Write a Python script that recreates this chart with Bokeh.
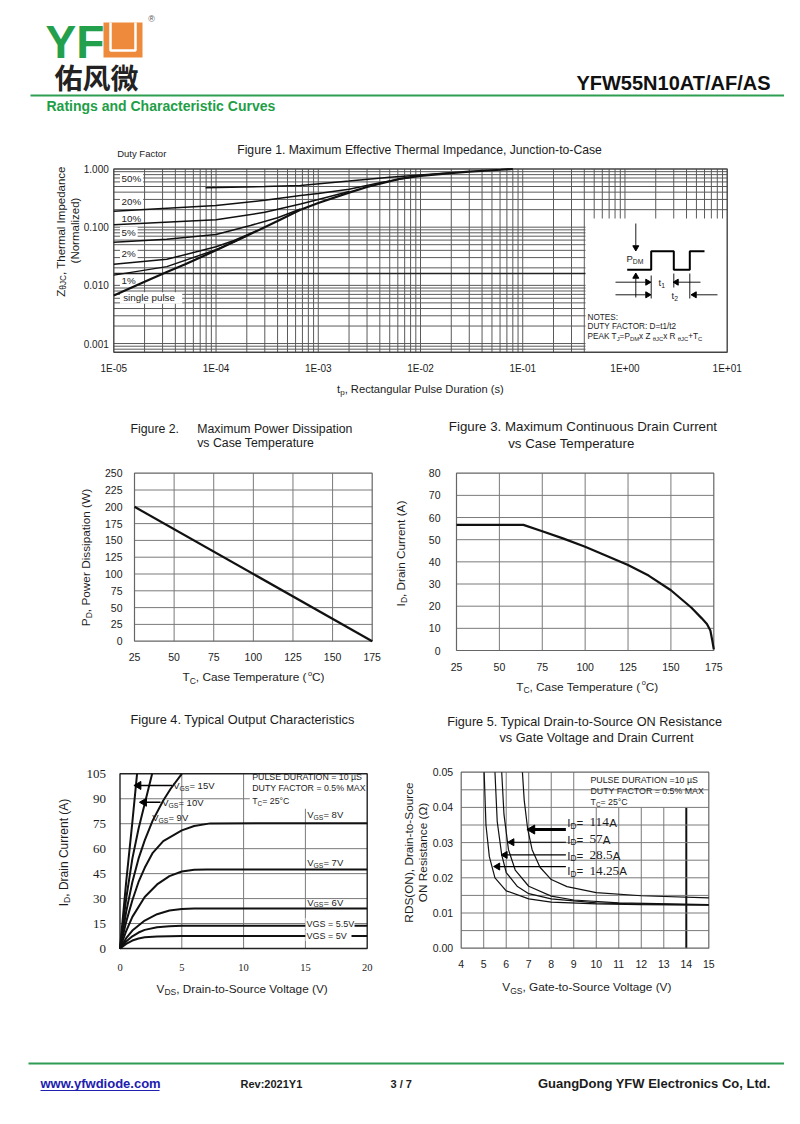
import math
from bokeh.plotting import figure
from bokeh.plotting.glyph_api import GlyphAPI
from bokeh.models import Range1d, LogScale, LinearScale, ColumnDataSource, CoordinateMapping
from bokeh.core.properties import value, field
from bokeh.embed import file_html
from bokeh.resources import INLINE

# ------------------------------------------------------------------ data
# Figure 1 : thermal impedance (t in s, Z normalized)
f1_x_ticks = [1e-5, 1e-4, 1e-3, 1e-2, 1e-1, 1e0, 1e1]
f1_x_labels = ["1E-05", "1E-04", "1E-03", "1E-02", "1E-01", "1E+00", "1E+01"]
f1_y_ticks = [1.0, 0.1, 0.01, 0.001]
f1_y_labels = ["1.000", "0.100", "0.010", "0.001"]
f1_t_single = [1e-5, 2e-5, 3.3e-5, 5e-5, 1e-4, 2e-4, 4e-4, 6.7e-4, 1e-3, 2.07e-3, 3e-3, 6.3e-3, 1e-2, 1.97e-2, 3e-2, 6.1e-2, 8e-2]
f1_z_single = [0.0067, 0.0115, 0.017, 0.023, 0.04, 0.071, 0.128, 0.2, 0.26, 0.4, 0.49, 0.68, 0.76, 0.85, 0.9, 0.97, 1.0]
f1_t_d1 = [1e-5, 3.3e-5, 1e-4, 1.5e-4, 2e-4]
f1_z_d1 = [0.015, 0.021, 0.041, 0.056, 0.071]
f1_t_d2 = [1e-5, 3.3e-5, 1e-4, 1.5e-4, 2.5e-4]
f1_z_d2 = [0.023, 0.028, 0.046, 0.059, 0.087]
f1_t_d5 = [1e-5, 3.3e-5, 1e-4, 2.17e-4, 4e-4, 6.7e-4]
f1_z_d5 = [0.055, 0.062, 0.075, 0.107, 0.145, 0.205]
f1_t_d10 = [1e-5, 1e-4, 3e-4, 6.7e-4, 1e-3, 2e-3]
f1_z_d10 = [0.11, 0.134, 0.18, 0.25, 0.3, 0.41]
f1_t_d20 = [1e-5, 1e-4, 3e-4, 6.7e-4, 1e-3, 2e-3, 4e-3, 8e-3]
f1_z_d20 = [0.188, 0.236, 0.29, 0.35, 0.38, 0.45, 0.58, 0.72]
f1_t_d50 = [7.9e-5, 3e-4, 6.7e-4, 2e-3, 5e-3, 1e-2, 2e-2]
f1_z_d50 = [0.475, 0.5, 0.52, 0.62, 0.72, 0.79, 0.86]
f1_duty_labels = ["50%", "20%", "10%", "5%", "2%", "1%", "single pulse"]

# Figure 2 : power dissipation vs case temperature
f2_ticks_x = [25, 50, 75, 100, 125, 150, 175]
f2_ticks_y = [0, 25, 50, 75, 100, 125, 150, 175, 200, 225, 250]
f2_tc = [25, 175]
f2_pd = [200, 0]

# Figure 3 : continuous drain current vs case temperature
f3_ticks_x = [25, 50, 75, 100, 125, 150, 175]
f3_ticks_y = [0, 10, 20, 30, 40, 50, 60, 70, 80]
f3_tc = [25, 64, 75, 87, 100, 112, 125, 137, 150, 162, 168, 171, 173, 174, 175]
f3_id = [56.7, 56.7, 53.8, 50.6, 46.8, 42.9, 38.6, 33.8, 27.2, 19.3, 14.5, 12.0, 9.0, 5.0, 0.5]

# Figure 4 : output characteristics (VDS in V, ID in A)
f4_ticks_x = [0, 5, 10, 15, 20]
f4_ticks_y = [0, 15, 30, 45, 60, 75, 90, 105]
f4_v_5 = [0, 0.5, 1, 1.5, 2, 3, 4, 5, 20]
f4_i_5 = [0, 2.8, 4.8, 6.0, 6.7, 7.2, 7.4, 7.5, 7.5]
f4_v_55 = [0, 0.5, 1, 1.5, 2, 3, 4, 5, 20]
f4_i_55 = [0, 4.2, 7.3, 9.6, 11.2, 12.8, 13.4, 13.6, 13.6]
f4_v_6 = [0, 0.5, 1, 2, 3, 4, 5, 6, 20]
f4_i_6 = [0, 6.2, 10.8, 16.8, 20.6, 22.8, 23.8, 24.0, 24.0]
f4_v_7 = [0, 0.5, 1, 2, 3, 4, 5, 6, 7, 20]
f4_i_7 = [0, 10.5, 19, 31, 38.5, 43.5, 46.3, 47.3, 47.5, 47.5]
f4_v_8 = [0, 0.5, 1, 1.5, 2, 2.65, 3.5, 5, 6, 7.3, 20]
f4_i_8 = [0, 16, 29, 40, 48.5, 57.5, 64.5, 71, 73.6, 75.2, 75.3]
f4_v_9 = [0, 0.5, 1, 1.5, 2, 2.65, 3.5, 4.1, 5.0]
f4_i_9 = [0, 22, 40, 54, 65, 77, 89, 96, 105]
f4_v_10 = [0, 0.5, 1, 1.5, 2, 2.6]
f4_i_10 = [0, 30, 54, 72, 87, 105]
f4_v_15 = [0, 0.5, 1, 1.38]
f4_i_15 = [0, 40, 76, 105]

# Figure 5 : RDS(on) vs VGS
f5_ticks_x = [4, 5, 6, 7, 8, 9, 10, 11, 12, 13, 14, 15]
f5_ticks_y = [0.0, 0.01, 0.02, 0.03, 0.04, 0.05]
f5_y_labels = ["0.00", "0.01", "0.02", "0.03", "0.04", "0.05"]
f5_v_14 = [5.02, 5.1, 5.25, 5.5, 6, 7, 8, 10, 12, 15]
f5_r_14 = [0.05, 0.035, 0.026, 0.02, 0.0163, 0.014, 0.0131, 0.0126, 0.0124, 0.0122]
f5_v_28 = [5.5, 5.6, 5.8, 6, 6.5, 7, 8, 10, 12, 15]
f5_r_28 = [0.05, 0.036, 0.0265, 0.0215, 0.0175, 0.0155, 0.014, 0.0129, 0.0125, 0.0123]
f5_v_57 = [5.8, 5.9, 6.1, 6.4, 7, 8, 9, 11, 15]
f5_r_57 = [0.05, 0.038, 0.028, 0.0222, 0.0176, 0.0148, 0.0137, 0.0129, 0.0124]
f5_v_114 = [6.72, 6.8, 6.95, 7.15, 7.5, 8, 8.7, 10, 12, 15]
f5_r_114 = [0.05, 0.042, 0.034, 0.028, 0.023, 0.0195, 0.0175, 0.0158, 0.0149, 0.0143]

# ------------------------------------------------------------------ styles
SANS = "Liberation Sans"
SERIF = "Liberation Serif"
CJK = "Noto Sans CJK SC"
TXT = "#1c1c1c"
GRID = "#7a7a7a"
GREEN = "#23a04c"

AW = {' ': 278, '!': 278, '%': 889, '(': 333, ')': 333, '+': 584, ',': 278, '-': 333, '.': 278, '/': 278,
      ':': 278, '=': 584, 'A': 667, 'B': 667, 'C': 722, 'D': 722, 'E': 667, 'F': 611, 'G': 778, 'H': 722,
      'I': 278, 'J': 500, 'K': 667, 'L': 556, 'M': 833, 'N': 722, 'O': 778, 'P': 667, 'Q': 778, 'R': 722,
      'S': 667, 'T': 611, 'U': 722, 'V': 667, 'W': 944, 'X': 667, 'Y': 667, 'Z': 611, 'a': 556, 'b': 556,
      'c': 500, 'd': 556, 'e': 556, 'f': 278, 'g': 556, 'h': 556, 'i': 222, 'j': 222, 'k': 500, 'l': 222,
      'm': 833, 'n': 556, 'o': 556, 'p': 556, 'q': 556, 'r': 333, 's': 500, 't': 278, 'u': 556, 'v': 500,
      'w': 722, 'x': 500, 'y': 500, 'z': 500, '°': 400, 'θ': 556, 'Ω': 768, 'µ': 556}
for _d in "0123456789":
    AW[_d] = 556


def width(text, size, font=SANS):
    if font == SERIF:
        tot = sum(250 if c in " .," else 500 for c in text)
    else:
        tot = sum(AW.get(c, 556) for c in text)
    return tot * size / 1000.0


# ------------------------------------------------------------------ canvas
p = figure(width=784, height=1108, x_range=Range1d(0, 784), y_range=Range1d(1108, 0),
           output_backend="svg", toolbar_location=None, min_border=0,
           x_axis_location=None, y_axis_location=None, outline_line_color=None,
           background_fill_color="white", border_fill_color="white")
p.xgrid.visible = False
p.ygrid.visible = False

batches = {}


def put(x, y, text, size, color=TXT, font=SANS, style="normal", align="left", angle=0.0):
    key = (font, style, align, float(angle))
    b = batches.setdefault(key, {"x": [], "y": [], "text": [], "size": [], "color": []})
    b["x"].append(x)
    b["y"].append(y)
    b["text"].append(text)
    b["size"].append(f"{size:.2f}px")
    b["color"].append(color)


def label(x, y, parts, size, align="left", angle=0.0, color=TXT, style="normal", font=SANS):
    items = []
    for part in parts:
        if isinstance(part, str):
            part = (part, "n")
        t, k = part
        if k == "sub":
            s, sh, f = size * 0.72, size * 0.3, font
        elif k == "sup":
            s, sh, f = size * 0.62, -size * 0.35, font
        elif k == "serif":
            s, sh, f = size * 1.15, -size * 0.04, SERIF
        else:
            s, sh, f = size, 0.0, font
        w = width(t, s, f) * (1.07 if style == "bold" else 1.0)
        items.append((t, s, sh, f, w))
    if len(items) == 1 and items[0][2] == 0:
        t, s, sh, f, w = items[0]
        put(x, y, t, s, color, f, style, align, angle)
        return
    total = sum(i[4] for i in items)
    pos = {"left": 0.0, "center": -total / 2, "right": -total}[align]
    for t, s, sh, f, w in items:
        if angle == 0:
            put(x + pos, y + sh, t, s, color, f, style, "left", 0.0)
        else:
            put(x + sh, y - pos, t, s, color, f, style, "left", angle)
        pos += w


def sub(xs, ys, xt, yt, xlog=False, ylog=False):
    cm = CoordinateMapping(x_source=Range1d(*xs), y_source=Range1d(*ys),
                           x_scale=LogScale() if xlog else LinearScale(),
                           y_scale=LogScale() if ylog else LinearScale(),
                           x_target=Range1d(*xt), y_target=Range1d(*yt))
    return GlyphAPI(p, cm)


def xtick_labels(s, ticks, labels, ymin, off, size, font=SANS, color=TXT):
    s.text(x=ticks, y=[ymin] * len(ticks), text=labels, y_offset=off, text_align="center",
           text_baseline="middle", text_font=value(font), text_font_size=f"{size}px", text_color=color)


def ytick_labels(s, ticks, labels, xmin, off, size, font=SANS, color=TXT):
    s.text(x=[xmin] * len(ticks), y=ticks, text=labels, x_offset=off, text_align="right",
           text_baseline="middle", text_font=value(font), text_font_size=f"{size}px", text_color=color)


def vgrid(s, xs, y0, y1, color=GRID, w=1.0):
    s.segment(x0=xs, y0=[y0] * len(xs), x1=xs, y1=[y1] * len(xs), line_color=color, line_width=w)


def hgrid(s, ys, x0, x1, color=GRID, w=1.0):
    s.segment(x0=[x0] * len(ys), y0=ys, x1=[x1] * len(ys), y1=ys, line_color=color, line_width=w)


def frame(s, x0, x1, y0, y1, color="#555555", w=1.2):
    s.quad(left=[x0], right=[x1], bottom=[y0], top=[y1], fill_color=None, line_color=color, line_width=w)


def sub_arrow(s, x0, x1, y, lw=1.2, head=7):
    s.segment(x0=[x0], y0=[y], x1=[x1], y1=[y], line_color="black", line_width=lw)
    s.scatter(x=[x1], y=[y], marker="triangle", size=head, angle=math.pi / 2,
              fill_color="black", line_color="black")


def white_box(l, r, t, b):
    p.quad(left=[l], right=[r], top=[t], bottom=[b], fill_color="white", line_color=None)


# ------------------------------------------------------------------ header
label(45, 41, [("YF", "n")], 46, color=GREEN, style="bold")
p.quad(left=[103], right=[142], top=[22], bottom=[57], fill_color="#ee8a3c", line_color=None)
p.line(x=[110, 110, 135, 135], y=[22, 50, 50, 22], line_color="white", line_width=2.5)
label(151, 18, [("®", "n")], 9, align="center", color="#555555")
label(96, 76, [("佑风微", "n")], 28, align="center", color="#222222", style="bold", font=CJK)
label(770, 82, [("YFW55N10AT/AF/AS", "n")], 20, align="right", color="#111111", style="bold")
p.segment(x0=[30], y0=[95], x1=[792], y1=[95], line_color="#2e9e52", line_width=2)
label(46, 105.5, [("Ratings and Characteristic Curves", "n")], 14, color="#1e9e46", style="bold")

# ------------------------------------------------------------------ figure 1
s1 = sub((1e-5, 10.0), (7.1e-4, 1.0), (113.3, 726.7), (351.7, 168.5), xlog=True, ylog=True)
f1_vx = [k * 10.0 ** d for d in range(-5, 1) for k in range(2, 10)] + [1e-4, 1e-3, 1e-2, 1e-1, 1.0]
f1_hy = [k * 10.0 ** d for d in range(-4, 0) for k in range(1, 10) if k * 10.0 ** d >= 7.1e-4]
vgrid(s1, f1_vx, 7.1e-4, 1.0, color="#5a5a5a", w=1.0)
hgrid(s1, f1_hy, 1e-5, 10.0, color="#5a5a5a", w=1.0)
hgrid(s1, [0.016], 1e-5, 10.0, color="#222222", w=1.6)

label_y = [178.3, 200.7, 217.7, 231.7, 252.7, 280.0, 297.3]
for txt, yy in zip(f1_duty_labels, label_y):
    w = width(txt, 9.8)
    white_box(119.5, 121 + w + 2 if txt != "single pulse" else 181.7, yy - 5.5, yy + 6)
white_box(585, 726.7, 218, 351.7)
frame(s1, 1e-5, 10.0, 7.1e-4, 1.0, color="#444444", w=1.4)

for t, z in [(f1_t_d50, f1_z_d50), (f1_t_d20, f1_z_d20), (f1_t_d10, f1_z_d10), (f1_t_d5, f1_z_d5),
             (f1_t_d2, f1_z_d2), (f1_t_d1, f1_z_d1)]:
    s1.line(x=t, y=z, line_color="#111111", line_width=1.5)
s1.line(x=f1_t_single, y=f1_z_single, line_color="#111111", line_width=2.2)
xtick_labels(s1, f1_x_ticks, f1_x_labels, 7.1e-4, 16.6, 10)
ytick_labels(s1, f1_y_ticks, f1_y_labels, 1e-5, -5, 10)

for txt, yy in zip(f1_duty_labels, label_y):
    label(121 if txt != "single pulse" else 122.7, yy, [txt], 9.8)

label(236.7, 149, ["Figure 1. Maximum Effective Thermal Impedance, Junction-to-Case"], 12.2)
label(116.7, 153.3, ["Duty Factor"], 9.5)
label(420, 388.3, ["t", ("p", "sub"), ", Rectangular Pulse Duration (s)"], 11.2, align="center")
label(60, 231, ["Z", ("θJC", "sub"), ", Thermal Impedance"], 11.5, align="center", angle=math.pi / 2)
label(74, 230, ["(Normalized)"], 11.5, align="center", angle=math.pi / 2)

# pulse diagram (schematic inside the note box)
p.line(x=[626.7, 650.7, 650.7, 673.3, 673.3, 689.3, 689.3, 704],
       y=[269.3, 269.3, 250.7, 250.7, 269.3, 269.3, 250.7, 250.7], line_color="black", line_width=2)
p.segment(x0=[635.3, 635.3, 615, 615, 700, 717, 650.7, 673.3, 689.3],
          y0=[223, 297, 281.7, 294.3, 281.7, 294.3, 275, 273, 273],
          x1=[635.3, 635.3, 645, 645, 678, 696, 650.7, 673.3, 689.3],
          y1=[245, 278, 281.7, 294.3, 281.7, 294.3, 298, 287, 298], line_color="black", line_width=0.9)
p.scatter(x=[635.3], y=[247], marker="inverted_triangle", size=6, fill_color="black", line_color="black")
p.scatter(x=[635.3], y=[276], marker="triangle", size=6, fill_color="black", line_color="black")
p.scatter(x=[647, 647], y=[281.7, 294.3], marker="triangle", size=6, angle=-math.pi / 2,
          fill_color="black", line_color="black")
p.scatter(x=[676, 694], y=[281.7, 294.3], marker="triangle", size=6, angle=math.pi / 2,
          fill_color="black", line_color="black")
label(626, 258, ["P", ("DM", "sub")], 9.5)
label(658, 281.7, ["t", ("1", "sub")], 9.5)
label(671, 295, ["t", ("2", "sub")], 9.5)
label(587, 316.7, ["NOTES:"], 8.2)
label(587, 326.3, ["DUTY FACTOR: D=t1/t2"], 8.2)
label(587, 336, ["PEAK T", ("J", "sub"), "=P", ("DM", "sub"), " x Z", ("θJC", "sub"), " x R", ("θJC", "sub"),
                 "+T", ("C", "sub")], 8.2)

# ------------------------------------------------------------------ figure 2
s2 = sub((25, 175), (0, 250), (134, 371.7), (640.7, 472.7))
vgrid(s2, f2_ticks_x[1:-1], 0, 250)
hgrid(s2, f2_ticks_y[1:-1], 25, 175)
frame(s2, 25, 175, 0, 250, color="#666666")
s2.line(x=f2_tc, y=f2_pd, line_color="#111111", line_width=2.2)
xtick_labels(s2, f2_ticks_x, [str(v) for v in f2_ticks_x], 0, 16, 10.5)
ytick_labels(s2, f2_ticks_y, [str(v) for v in f2_ticks_y], 25, -12, 10.5)
label(130, 428, ["Figure 2."], 12.3)
label(196.7, 428, ["Maximum Power Dissipation"], 12.3)
label(196.7, 442.5, ["vs Case Temperature"], 12.3)
label(85, 557, ["P", ("D", "sub"), ", Power Dissipation (W)"], 11.8, align="center", angle=math.pi / 2)
label(253, 676.7, ["T", ("C", "sub"), ", Case Temperature (", ("o", "sup"), "C)"], 11.8, align="center")

# ------------------------------------------------------------------ figure 3
s3 = sub((25, 175), (0, 80), (456, 713.3), (650, 472.7))
vgrid(s3, f3_ticks_x[1:-1], 0, 80)
hgrid(s3, f3_ticks_y[1:-1], 25, 175)
frame(s3, 25, 175, 0, 80, color="#666666")
s3.line(x=f3_tc, y=f3_id, line_color="#111111", line_width=2.2)
xtick_labels(s3, f3_ticks_x, [str(v) for v in f3_ticks_x], 0, 16.7, 10.5)
ytick_labels(s3, f3_ticks_y, [str(v) for v in f3_ticks_y], 25, -16, 10.5)
label(448.3, 426, ["Figure 3.  Maximum Continuous Drain Current"], 13.3)
label(507.7, 442.7, ["vs Case Temperature"], 13.3)
label(400, 553, ["I", ("D", "sub"), ", Drain Current (A)"], 11.8, align="center", angle=math.pi / 2)
label(586.7, 686, ["T", ("C", "sub"), ", Case Temperature (", ("o", "sup"), "C)"], 11.8, align="center")

# ------------------------------------------------------------------ figure 4
s4 = sub((0, 20), (0, 105), (119.5, 366.7), (948, 773.3))
vgrid(s4, [5, 10], 0, 105)
vgrid(s4, [15], 0, 84)
hgrid(s4, [15, 30, 45, 60, 75], 0, 20)
hgrid(s4, [90], 0, 10.5)
frame(s4, 0, 20, 0, 105, color="#222222", w=1.4)
for v, i in [(f4_v_5, f4_i_5), (f4_v_55, f4_i_55), (f4_v_6, f4_i_6), (f4_v_7, f4_i_7),
             (f4_v_8, f4_i_8), (f4_v_9, f4_i_9), (f4_v_10, f4_i_10), (f4_v_15, f4_i_15)]:
    s4.line(x=v, y=i, line_color="#111111", line_width=2.0)
sub_arrow(s4, 4.22, 1.5, 98.0, lw=1.6, head=8)
sub_arrow(s4, 3.28, 1.95, 87.9, lw=1.6, head=8)
white_box(305, 354, 917.5, 928.5)
white_box(305, 351, 929.5, 940.5)
xtick_labels(s4, f4_ticks_x, [str(v) for v in f4_ticks_x], 0, 18.7, 10.5, font=SERIF)
ytick_labels(s4, f4_ticks_y, [str(v) for v in f4_ticks_y], 0, -14, 13, font=SERIF)
label(130, 719, ["Figure 4. Typical Output Characteristics"], 12.8)
label(63, 852, ["I", ("D", "sub"), ", Drain Current (A)"], 12, align="center", angle=math.pi / 2)
label(242, 988.3, ["V", ("DS", "sub"), ", Drain-to-Source Voltage (V)"], 11.8, align="center")
label(172.7, 785, ["V", ("GS", "sub"), " = 15V"], 9.5)
label(161.7, 801.7, ["V", ("GS", "sub"), " = 10V"], 9.5)
label(151.7, 816.7, ["V", ("GS", "sub"), " = 9V"], 9.5)
label(306.7, 814, ["V", ("GS", "sub"), " = 8V"], 9.5)
label(306.7, 862, ["V", ("GS", "sub"), " = 7V"], 9.5)
label(306.7, 901.5, ["V", ("GS", "sub"), " = 6V"], 9.5)
label(306, 923, ["VGS = 5.5V"], 9)
label(306, 935, ["VGS = 5V"], 9)
label(251.7, 776.7, ["PULSE DURATION = 10 µS"], 8.8)
label(251.7, 787.7, ["DUTY FACTOR = 0.5% MAX"], 8.8)
label(251.7, 800, ["T", ("C", "sub"), " = 25°C"], 8.8)

# ------------------------------------------------------------------ figure 5
s5 = sub((4, 15), (0, 0.05), (460.7, 708.3), (947.7, 771.7))
vgrid(s5, [5, 6, 7, 8, 9], 0, 0.05)
vgrid(s5, [10, 11, 12, 13], 0, 0.04)
vgrid(s5, [14], 0, 0.04, color="#111111", w=2.0)
hgrid(s5, [0.005, 0.01, 0.015, 0.02, 0.025, 0.03, 0.035, 0.04, 0.045], 4, 15)
frame(s5, 4, 15, 0, 0.05, color="#666666")
for v, r in [(f5_v_14, f5_r_14), (f5_v_28, f5_r_28), (f5_v_57, f5_r_57), (f5_v_114, f5_r_114)]:
    s5.line(x=v, y=r, line_color="#111111", line_width=1.2)
sub_arrow(s5, 8.65, 7.15, 0.0337, lw=3.0, head=9)
sub_arrow(s5, 8.65, 6.25, 0.0301, lw=1.2, head=7)
sub_arrow(s5, 8.65, 5.95, 0.0265, lw=1.2, head=7)
sub_arrow(s5, 8.65, 5.62, 0.0232, lw=1.2, head=7)
xtick_labels(s5, f5_ticks_x, [str(v) for v in f5_ticks_x], 0, 15.6, 10.5)
ytick_labels(s5, f5_ticks_y, f5_y_labels, 4, -8, 10.5)
label(446.7, 721, ["Figure 5. Typical Drain-to-Source ON Resistance"], 12.7)
label(499, 737.3, ["vs Gate Voltage and Drain Current"], 12.7)
label(408, 852, ["RDS(ON), Drain-to-Source"], 11.8, align="center", angle=math.pi / 2)
label(422, 852, ["ON Resistance (Ω)"], 11.8, align="center", angle=math.pi / 2)
label(586.7, 986.7, ["V", ("GS", "sub"), ", Gate-to-Source Voltage (V)"], 11.8, align="center")
label(590, 779.5, ["PULSE DURATION =10 µS"], 8.8)
label(590, 790, ["DUTY FACTOR = 0.5% MAX"], 8.8)
label(590, 801, ["T", ("C", "sub"), " = 25°C"], 8.8)
label(566.7, 822.3, ["I", ("D", "sub"), " = ", ("114", "serif"), "A"], 11.5)
label(566.7, 839, ["I", ("D", "sub"), " = ", ("57", "serif"), "A"], 11.5)
label(566.7, 855, ["I", ("D", "sub"), " = ", ("28.5", "serif"), "A"], 11.5)
label(566.7, 870.7, ["I", ("D", "sub"), " = ", ("14.25", "serif"), "A"], 11.5)

# ------------------------------------------------------------------ footer
p.segment(x0=[28], y0=[1063], x1=[792], y1=[1063], line_color="#2e9c55", line_width=2.2)
label(40, 1083, ["www.yfwdiode.com"], 13, color="#2020b0", style="bold")
p.segment(x0=[40], y0=[1090], x1=[40 + width("www.yfwdiode.com", 13) * 1.07], y1=[1090],
          line_color="#2020b0", line_width=1.2)
label(240, 1083, ["Rev:2021Y1"], 11, style="bold")
label(390, 1083, ["3 / 7"], 11, style="bold")
label(770, 1083, ["GuangDong YFW Electronics Co, Ltd."], 13, align="right", style="bold")

# ------------------------------------------------------------------ texts
for (font, style, align, angle), d in batches.items():
    p.text(x="x", y="y", text="text", source=ColumnDataSource(d), text_font_size=field("size"),
           text_color=field("color"), text_font=value(font), text_font_style=style,
           text_align=align, text_baseline="middle", angle=angle)

open("out.html", "w").write(file_html(p, INLINE))
